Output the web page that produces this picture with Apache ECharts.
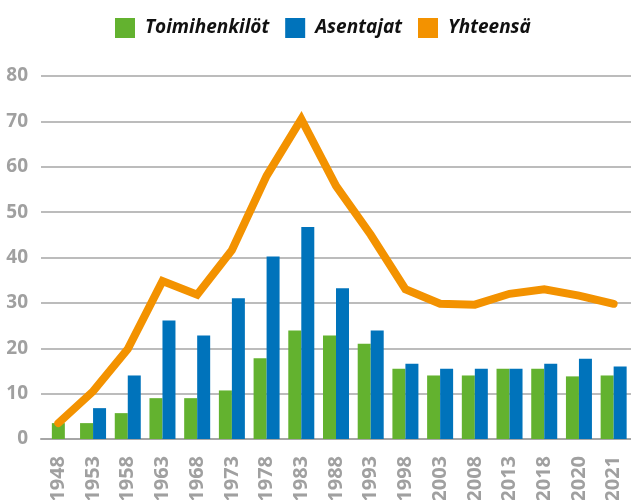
<!DOCTYPE html>
<html>
<head>
<meta charset="utf-8">
<script src="https://cdn.jsdelivr.net/npm/echarts@6/dist/echarts.min.js"></script>
<style>
html, body { margin: 0; padding: 0; background: #fff; }
#chart { width: 631px; height: 500px; }
</style>
</head>
<body>
<div id="chart"></div>
<script>
var years = ['1948', '1953', '1958', '1963', '1968', '1973', '1978', '1983', '1988', '1993', '1998', '2003', '2008', '2013', '2018', '2020', '2021'];
// 1948 green bar is drawn centred on its own, so it sits in firstGreen
var toimihenkilot = [null, 3.5, 5.7, 9, 9, 10.7, 17.8, 23.9, 22.8, 21, 15.5, 14, 14, 15.5, 15.5, 13.8, 14];
var firstGreen = [3.5, null, null, null, null, null, null, null, null, null, null, null, null, null, null, null, null];
var asentajat = [null, 6.8, 14, 26.1, 22.8, 31, 40.2, 46.7, 33.2, 23.9, 16.6, 15.5, 15.5, 15.5, 16.6, 17.7, 16];
var yhteensa = [3.5, 10.5, 19.8, 34.8, 31.8, 41.6, 58, 70.5, 55.8, 45, 33, 29.8, 29.6, 32, 33, 31.6, 29.8];

var green = '#63b22f', blue = '#0073bb', orange = '#f39200';
var gray = '#a6a6a6', labelGray = '#a0a0a0';

var byId = function(id) {
	return document.getElementById(id);
};
var chart = echarts.init(byId('chart'));
chart.setOption({
	animation: false,
	legend: {
		top: 13,
		left: 110,
		itemWidth: 20,
		itemHeight: 20,
		itemGap: 16,
		icon: 'rect',
		data: ['Toimihenkilöt', 'Asentajat', 'Yhteensä'],
		textStyle: {
			fontFamily: 'Open Sans',
			fontSize: 19,
			fontWeight: 'bold',
			fontStyle: 'italic',
			color: '#111',
			padding: [0, 0, 0, 5]
		}
	},
	grid: {
		left: 41,
		right: 0,
		top: 76,
		bottom: 61,
		outerBoundsMode: 'none'
	},
	xAxis: [{
		type: 'category',
		data: years,
		axisTick: { show: false },
		axisLine: { lineStyle: { color: gray, width: 2 } },
		axisLabel: {
			rotate: 90,
			interval: 0,
			margin: 17,
			color: labelGray,
			fontFamily: 'Open Sans',
			fontWeight: 'bold',
			fontSize: 20
		}
	}, {
		type: 'category',
		data: years,
		show: false
	}],
	yAxis: {
		type: 'value',
		min: 0,
		max: 80,
		interval: 10,
		axisLine: { show: false },
		axisTick: { show: false },
		splitLine: { lineStyle: { color: gray, width: 1.5 } },
		axisLabel: {
			margin: 13,
			color: labelGray,
			fontFamily: 'Open Sans',
			fontWeight: 'bold',
			fontSize: 19
		}
	},
	series: [{
		name: 'Toimihenkilöt',
		type: 'bar',
		barWidth: 13,
		barGap: '0%',
		itemStyle: { color: green },
		data: toimihenkilot
	}, {
		name: 'Asentajat',
		type: 'bar',
		barWidth: 13,
		barGap: '0%',
		itemStyle: { color: blue },
		data: asentajat
	}, {
		name: 'Toimihenkilöt',
		type: 'bar',
		xAxisIndex: 1,
		barWidth: 13,
		itemStyle: { color: green },
		data: firstGreen
	}, {
		name: 'Yhteensä',
		type: 'line',
		symbol: 'none',
		z: 5,
		itemStyle: { color: orange },
		lineStyle: { color: orange, width: 8, cap: 'round', join: 'miter' },
		data: yhteensa
	}]
});
</script>
</body>
</html>
